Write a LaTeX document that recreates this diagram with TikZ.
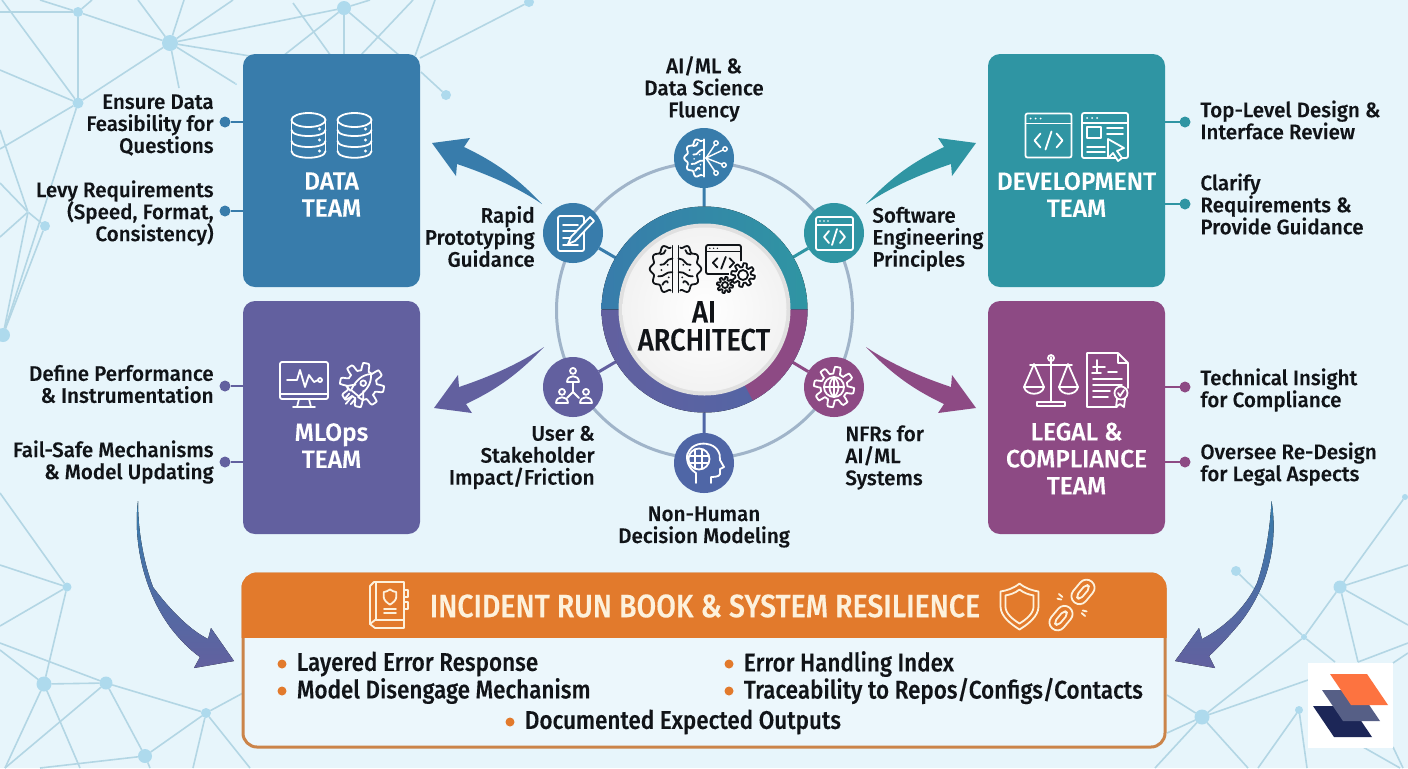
\documentclass[tikz,border=0pt]{standalone}
\usepackage{fontspec}
\setmainfont{Fira Sans Medium}[FakeStretch=0.98,FakeBold=0.25]
\newfontfamily\narrowfont[FakeStretch=0.88,FakeBold=0.25]{Fira Sans Medium}
\usepackage{xcolor}
\usetikzlibrary{positioning}
\definecolor{pagebg}{HTML}{E7F5FB}
\definecolor{netline}{HTML}{B3D6E4}
\definecolor{netdotc}{HTML}{AEDAED}
\definecolor{teamdata}{HTML}{387CAB}
\definecolor{teammlops}{HTML}{62609F}
\definecolor{teamdev}{HTML}{2F95A3}
\definecolor{teamlegal}{HTML}{8D4A84}
\definecolor{runorange}{HTML}{E27A2C}
\definecolor{runborder}{HTML}{CB8449}
\definecolor{runcream}{HTML}{FDF1DC}
\definecolor{orbitc}{HTML}{A0B4C9}
\definecolor{humanblue}{HTML}{4F66A6}
\definecolor{notetext}{HTML}{111418}
\definecolor{logodark}{HTML}{1C2657}
\definecolor{logomid}{HTML}{565F86}
\definecolor{logoorange}{HTML}{FD7340}
\newcommand{\notefont}{\fontsize{10.5}{11}\selectfont\lineskiplimit -5pt\relax}
\newcommand{\teamfont}{\fontsize{12.5}{13.5}\selectfont\lineskiplimit -5pt\relax}
\newcommand{\corefont}{\fontsize{15.5}{14}\narrowfont\lineskiplimit -5pt\relax}

\begin{document}
\begin{tikzpicture}[
  x=0.5pt, y=-0.5pt,
  netdot/.style={circle, fill=netdotc, inner sep=0pt, outer sep=0pt},
  netedge/.style={netline, line width=0.8pt},
  teambox/.style={rectangle, rounded corners=6pt, minimum width=88.5pt, minimum height=116.5pt,
                  inner sep=0pt, outer sep=0pt},
  teamlabel/.style={white, align=center, inner sep=0pt, font=\teamfont},
  leftnote/.style={anchor=east, align=right, inner sep=0pt, notetext, font=\notefont},
  rightnote/.style={anchor=west, align=left, inner sep=0pt, notetext, font=\notefont},
  midnote/.style={align=center, inner sep=0pt, notetext, font=\notefont},
  leaddot/.style={circle, minimum size=5.5pt, inner sep=0pt, outer sep=0pt},
  leader/.style={line width=1pt},
  sat/.style={circle, minimum size=30pt, inner sep=0pt, outer sep=0pt},
  spoke/.style={line width=1.5pt},
  orbit/.style={orbitc, line width=1.5pt},
  iconw/.style={color=white, line width=0.9pt, line join=round, line cap=round},
  iconk/.style={color=notetext, line width=0.9pt, line join=round, line cap=round},
  iconc/.style={color=runcream, line width=0.9pt, line join=round, line cap=round},
  bullet/.style={circle, fill=runorange, minimum size=4.5pt, inner sep=0pt},
  runtext/.style={anchor=west, inner sep=0pt, notetext, font=\fontsize{12.75}{13}\narrowfont},
  codewin/.pic={
    \draw[rounded corners=1pt] (-23,-22) rectangle (23,22);
    \draw (-23,-12) -- (23,-12);
    \foreach \dx in {-18,-13,-8} \fill (\dx,-17) circle (1);
    \draw (-8,-2) -- (-14,5) -- (-8,12) (8,-2) -- (14,5) -- (8,12) (3,-4) -- (-3,14);
  },
  gearbody/.pic={
    \draw plot[domain=0:360, samples=121] (\x:{16+3.2*max(-1,min(1,2.5*sin(8*\x)))}) -- cycle;
  },
  brainhalf/.pic={
    \draw plot[domain=-85:85, samples=70, smooth] ({1.5+(20+1.6*cos(11*\x))*cos(\x)},{(22+1.8*cos(11*\x))*sin(\x)});
    \draw (1.5,-22) -- (1.5,22);
    \draw (1.5,-10) .. controls (8,-10) and (7,-3) .. (13,-4);
    \draw (1.5,3) .. controls (8,2) and (9,8) .. (15,7);
    \draw (6,13) .. controls (6,10) and (10,12) .. (11,15);
    \draw (8,-18) .. controls (8,-15) and (11,-14) .. (13,-14);
    \foreach \dx/\dy in {6/-4,12/1,5/8} \fill (\dx,\dy) circle (1);
  },
  person/.pic={
    \draw (0,-6) circle (3.5);
    \draw (-7,7) .. controls (-7,-2) and (7,-2) .. (7,7) -- cycle;
  },
  shieldline/.pic={
    \draw (0,-23) .. controls (-6,-18) and (-13,-16) .. (-19,-15) -- (-19,0) .. controls (-19,10) and (-8,18) .. (0,23)
          .. controls (8,18) and (19,10) .. (19,0) -- (19,-15) .. controls (13,-16) and (6,-18) .. (0,-23) -- cycle;
  },
  sidearrow/.pic={
    \fill (0,0) .. controls (-30,-32) and (-55,-46) .. (-78,-57) -- (-72,-66) -- (-110,-61) -- (-86,-28) -- (-85,-40)
          .. controls (-55,-30) and (-25,-17) .. (0,0) -- cycle;
  }
]
  \clip (0,0) rectangle (1408,768);
  \fill[pagebg] (0,0) rectangle (1408,768);

  \foreach \nn/\nx/\ny/\nr in {
    a/78/12/5, b/170/43/8, c/78/103/5.5, d/28/212/1, e/45/226/5, f/3/335/7, g/344/8/7, h/529/2/5, i/446/95/5, j/236/84/1,
    fa/0/12/0, fb/40/0/0, fc/92/0/0, fd/2/0/0, fe/0/70/0, ff/0/149/0, fg/0/130/0, fh/0/183/0, fi/0/237/0,
    fj/138/0/0, fk/184/0/0, fl/233/0/0, fm/250/56/0, fn/179/88/0, fo/283/56/0, fp/344/56/0, fq/400/56/0, fr/370/0/0,
    fs/293/3/0, ft/331/56/0, fu/413/0/0, fv/360/56/0, fw/435/0/0, fx/415/56/0, fy/420/58/0, fz/421/72/0,
    p/67/587/4.5, q/44/684/7.5, r/106/683/6.5, s/206/713/5, t/145/756/7,
    pa/0/493/0, pb/0/565/0, pc/0/626/0, pd/0/643/0, pe/0/650/0, pf/5/768/0, pg/80/768/0, ph/40/768/0, pi/150/768/0,
    pj/243/693/0, pk/193/768/0, pl/250/768/0,
    u/1236/571/5, v/1340/587/6.5, w/1304/637/3, o/1202/717/7.5, k/1299/710/4, l/1405/497/3,
    ua/1408/565/0, ub/1408/625/0, uc/1358/662/0, ud/1408/643/0, ue/1335/662/0, uf/1167/695/0, ug/1167/733/0,
    uh/1308/680/0, ui/1155/768/0, uj/1248/768/0, uk/1258/768/0, ul/1307/768/0, um/1393/663/0, un/1408/653/0,
    uo/1363/747/0, up/1400/768/0, uq/1393/747/0, ur/1403/768/0}
    \node[netdot, minimum size=\nr pt] (\nn) at (\nx,\ny) {};

  \foreach \na/\nb in {
    a/fa, a/fb, a/fc, a/b, a/c, fd/c, c/fe, c/ff, c/b, c/f, fg/d, d/f, d/e, d/fh, d/fi, e/f,
    b/fj, b/fk, b/fl, b/g, b/fm, b/j, b/fn, g/fo, g/fp, g/fq, g/fr, fs/ft, fu/fv, fw/fx, h/fy, i/fz,
    p/pa, p/pb, p/pc, p/q, q/r, r/pd, q/pe, q/pf, q/pg, r/pf, r/t, r/s, t/s, t/ph, t/pi, s/pj, s/pk, s/pl,
    u/w, v/w, v/l, v/ua, v/ub, v/uc, uc/ud, w/o, w/ue, o/uf, o/ug, o/uh, o/ui, o/uj, k/uk, k/ul, um/un, uo/up, uq/ur}
    \draw[netedge] (\na) -- (\nb);

  \node[teambox, fill=teamdata] (data) at (331.5,170.5) {};
  \node[teambox, fill=teammlops, below=7pt of data] (mlops) {};
  \node[teambox, fill=teamdev] (dev) at (1076.5,170.5) {};
  \node[teambox, fill=teamlegal, below=7pt of dev] (legal) {};

  \node[teamlabel] (datalabel) at (331.5,194.5) {DATA\\TEAM};
  \node[teamlabel] (mlopslabel) at (331.5,445.5) {MLOps\\TEAM};
  \node[teamlabel] (devlabel) at (1076.5,194.5) {DEVELOPMENT\\TEAM};
  \node[teamlabel] (legallabel) at (1076.5,458.5) {LEGAL \&\\COMPLIANCE\\TEAM};

  \foreach \nm/\nx/\ny/\boxn/\col in {
    da/225/122/data.west/teamdata, db/225/211/data.west/teamdata, ma/225/386/mlops.west/teammlops, mb/225/462/mlops.west/teammlops,
    dc/1185/122/dev.east/teamdev, dd/1185/204/dev.east/teamdev, la/1185/387/legal.east/teamlegal, lb/1185/462/legal.east/teamlegal} {
    \node[leaddot, fill=\col] (\nm) at (\nx,\ny) {};
    \draw[leader, \col] (\nm) -- (\nm -| \boxn);
  }

  \node[leftnote] (ensure) at (214,125) {Ensure Data\\Feasibility for\\Questions};
  \node[leftnote] (levy) at (214,213) {Levy Requirements\\(Speed, Format,\\Consistency)};
  \node[leftnote] (define) at (214,384) {Define Performance\\\& Instrumentation};
  \node[leftnote] (failsafe) at (214,462) {Fail-Safe Mechanisms\\\& Model Updating};
  \node[rightnote] (toplevel) at (1200,120) {Top-Level Design \&\\Interface Review};
  \node[rightnote] (clarify) at (1200,204) {Clarify\\Requirements \&\\Provide Guidance};
  \node[rightnote] (insight) at (1200,390) {Technical Insight\\for Compliance};
  \node[rightnote] (oversee) at (1200,464) {Oversee Re-Design\\for Legal Aspects};

  \node[midnote] (fluency) at (704,89) {AI/ML \&\\Data Science\\Fluency};
  \node[leftnote] (rapid) at (535,236.5) {Rapid\\Prototyping\\Guidance};
  \node[rightnote] (software) at (872,239) {Software\\Engineering\\Principles};
  \node[leftnote] (impact) at (595,457.5) {User \&\\Stakeholder\\Impact/Friction};
  \node[rightnote] (nfrs) at (845,457.5) {NFRs for\\AI/ML\\Systems};
  \node[midnote] (nonhuman) at (704,527) {Non-Human\\Decision Modeling};

  \node[circle, minimum size=103pt, inner sep=0pt, outer sep=0pt] (core) at (704.5,309.5) {};
  \draw[orbit] (704.5,310.5) circle (148);
  \node[sat, fill=teamdata] (satai) at (704,158) {};
  \node[sat, fill=teamdata] (satproto) at (573,233) {};
  \node[sat, fill=teamdev] (satsoft) at (834,233) {};
  \node[sat, fill=teammlops] (satuser) at (573,387) {};
  \node[sat, fill=teamlegal] (satnfr) at (834,387) {};
  \node[sat, fill=humanblue] (sathuman) at (704,463) {};
  \draw[spoke, teamdata] (satai) -- (core);
  \draw[spoke, teamdata] (satproto) -- (core);
  \draw[spoke, teamdev] (satsoft) -- (core);
  \draw[spoke, teammlops] (satuser) -- (core);
  \draw[spoke, teamlegal] (satnfr) -- (core);
  \draw[spoke, humanblue] (sathuman) -- (core);

  \fill[left color=teamdata, right color=teamdev] (core.west) arc (180:360:103) -- cycle;
  \fill[left color=teammlops, right color=humanblue] (core.west) arc (180:0:103) -- cycle;
  \fill[teamlegal] (core.center) -- (core.east) arc (0:62:103) -- cycle;
  \node[circle, fill=black!12, minimum size=86pt, inner sep=0pt] (corerim) at (core.center) {};
  \node[circle, inner color=white, outer color=black!5, minimum size=82pt, inner sep=0pt] (coredisc) at (core.center) {};
  \node[inner sep=0pt, align=center, notetext, font=\corefont] (corelabel) at (704,326) {AI\\ARCHITECT};

  \pic[iconk, scale=1.05] at (677,269) {brainhalf};
  \pic[iconk, xscale=-1.05, yscale=1.05] at (674,269) {brainhalf};
  \pic[iconk, xscale=0.76, yscale=0.66] at (723.5,259.5) {codewin};
  \fill[white] (743,275) circle (14) (725,285) circle (9);
  \pic[iconk, scale=0.62] at (743,275) {gearbody};
  \draw[iconk] (743,275) circle (5);
  \pic[iconk, scale=0.42] at (725,285) {gearbody};
  \draw[iconk] (725,285) circle (3);

  \pic[iconw, xscale=-0.9, yscale=0.85] at (705,158) {brainhalf};
  \foreach \ex/\ey in {716/143, 725/149, 724/165, 716/173} {
    \draw[iconw, line width=0.7pt] (706,158) -- (\ex,\ey);
    \draw[iconw, fill=teamdata, line width=0.7pt] (\ex,\ey) circle (2.2);
  }

  \begin{scope}[iconw]
    \draw[rounded corners=1pt] (558,216) rectangle (584,251);
    \foreach \ly in {225,231,238,245} \draw (563,\ly) -- (578,\ly);
    \draw[fill=teamdata] (590,217) -- (594,221) -- (575,241) -- (568,244) -- (571,237) -- cycle;
    \draw[rounded corners=1pt] (816,217) rectangle (853,250);
    \draw (816,225) -- (853,225);
    \foreach \dx in {820,824,828} \fill (\dx,221) circle (0.9);
    \draw (829,231) -- (824,237) -- (829,243) (840,231) -- (845,237) -- (840,243) (837,229) -- (832,245);
    \draw (573,383) -- (573,392) (567,398) -- (573,392) -- (579,398);
    \pic[scale=0.85] at (573,376) {person};
    \pic[scale=0.85] at (562,397) {person};
    \pic[scale=0.85] at (586,397) {person};
    \pic[scale=1.05] at (834,387) {gearbody};
    \draw (834,387) circle (10) (824,387) -- (844,387) (834,377) -- (834,397);
    \draw (834,377) .. controls (828,382) and (828,392) .. (834,397) (834,377) .. controls (840,382) and (840,392) .. (834,397);
    \begin{scope}[shift={(704,463)}]
      \draw (-8,20) -- (-8,10) .. controls (-18,4) and (-18,-8) .. (-16,-10) .. controls (-12,-20) and (0,-20) .. (3,-19)
            .. controls (12,-18) and (17,-10) .. (16,-3) -- (20,4) -- (16,6) -- (16,11) .. controls (16,14) and (8,14) .. (7,14) -- (7,20);
      \draw (-5,-4) circle (10.5) (-15,-7) -- (5,-7) (-14,0) -- (4,0) (-9,-14) -- (-9,6) (-2,-14) -- (-2,6);
    \end{scope}

    \foreach \cx in {308.5,354.5} {
      \draw (\cx,120) ellipse (17 and 7);
      \draw (\cx-17,120) -- (\cx-17,151) (\cx+17,120) -- (\cx+17,151);
      \draw (\cx-17,151) .. controls (\cx-17,160) and (\cx+17,160) .. (\cx+17,151);
      \draw (\cx-17,130) .. controls (\cx-17,138) and (\cx+17,138) .. (\cx+17,130);
      \draw (\cx-17,141) .. controls (\cx-17,149) and (\cx+17,149) .. (\cx+17,141);
      \foreach \ly in {129,140,151} \fill (\cx+11,\ly) circle (1.6);
    }

    \pic at (1048.5,135.5) {codewin};
    \draw[rounded corners=1pt] (1082,113) rectangle (1128,158);
    \draw (1082,123) -- (1128,123);
    \foreach \dx in {1087,1092,1097} \fill (\dx,118) circle (1);
    \draw (1087,127) rectangle (1101,138);
    \draw (1107,128) -- (1123,128) (1107,134) -- (1123,134) (1087,147) -- (1105,147) (1087,152) -- (1105,152);
    \draw[fill=teamdev] (1108,139) -- (1124,148) -- (1117,151) -- (1122,158) -- (1118,161) -- (1113,153) -- (1108,158) -- cycle;

    \draw[rounded corners=1pt] (280,362) rectangle (328,399);
    \draw (280,394) -- (328,394) (299,399) -- (297,407) (309,399) -- (311,407) (293,407) -- (315,407);
    \draw (287,380) -- (297,380) -- (300,370) -- (305,387) -- (309,375) -- (314,382) -- (318,380);
    \draw (320,380) circle (2);
    \pic[scale=1.15] at (362,385) {gearbody};
    \begin{scope}[shift={(360,387)}, rotate=-40]
      \draw[fill=teammlops] (0,-17) .. controls (7,-10) and (7,-2) .. (5,8) -- (-5,8) .. controls (-7,-2) and (-7,-10) .. (0,-17) -- cycle;
      \draw (0,-5) circle (2.8);
      \draw (-5,1) -- (-11,8) -- (-5,9) (5,1) -- (11,8) -- (5,9);
      \draw (-4,12) -- (-4,19) (0,12) -- (0,22) (4,12) -- (4,19);
    \end{scope}

    \draw (1051,357) -- (1051,402) (1030,365) -- (1072,365) (1037,406) -- (1065,406) -- (1065,402) -- (1037,402) -- cycle;
    \draw (1051,358) circle (3);
    \draw (1024,387) -- (1034,364) -- (1044,387) (1059,387) -- (1068,364) -- (1078,387);
    \draw (1024,387) -- (1044,387) .. controls (1042,396) and (1026,396) .. (1024,387);
    \draw (1059,387) -- (1078,387) .. controls (1076,396) and (1061,396) .. (1059,387);
    \draw (1118,353) -- (1087,353) -- (1087,407) -- (1117,407) (1128,388) -- (1128,363) -- (1118,353) -- (1118,363) -- (1128,363);
    \draw (1093,367) -- (1105,367) (1092,373) -- (1101,373) (1097,360) -- (1097,372) (1108,372) -- (1117,372);
    \draw (1093,379) -- (1122,379) (1093,385) -- (1122,385) (1093,391) -- (1110,391) (1093,397) -- (1108,397);
    \draw (1121,393) circle (6.5) (1117,399) -- (1116,407) -- (1120,404) -- (1124,407) -- (1125,399);
    \draw (1118,393) -- (1120,396) -- (1124,390);
  \end{scope}

  \pic[color=teamdata] at (542,204) {sidearrow};
  \pic[color=teamdev, xscale=-1] at (866,204) {sidearrow};
  \pic[color=teammlops, yscale=-1] at (544,347) {sidearrow};
  \pic[color=teamlegal, xscale=-1, yscale=-1] at (866,347) {sidearrow};

  \fill[top color=teamdata, bottom color=teammlops] (138,501) .. controls (133,540) and (143,590) .. (170,627)
    .. controls (180,640) and (190,650) .. (200,657) -- (194,668) -- (234,661) -- (211,628) -- (208,639)
    .. controls (190,630) and (170,610) .. (153,587) .. controls (143,560) and (138,530) .. (138,501) -- cycle;
  \fill[top color=teamdata, bottom color=teammlops] (1271.5,501) .. controls (1278,540) and (1270,585) .. (1240,623)
    .. controls (1230,635) and (1218,648) .. (1209,656) -- (1215,668) -- (1175,661) -- (1199,628) -- (1202,639)
    .. controls (1220,630) and (1245,610) .. (1257,583) .. controls (1265,560) and (1270,530) .. (1271.5,501) -- cycle;

  \node[rectangle, rounded corners=7pt, draw=runborder, fill=pagebg!80!white, line width=1.5pt,
        minimum width=461pt, minimum height=86.5pt, inner sep=0pt] (run) at (704,660.5) {};
  \begin{scope}
    \clip (238,568) rectangle (1170,637);
    \filldraw[runorange, line width=1.5pt, rounded corners=7pt] (243,574) rectangle (1165,747);
  \end{scope}
  \node[inner sep=0pt, runcream, font=\fontsize{16.2}{17}\narrowfont] (runtitle) at (705,606) {INCIDENT RUN BOOK \& SYSTEM RESILIENCE};

  \begin{scope}[iconc]
    \draw (370,586) -- (374,582) -- (404,582) -- (404,628) -- (375,628) -- (370,624) -- cycle;
    \draw (370,624) -- (375,620) -- (404,620) (376,582) -- (376,620);
    \draw (404,590) -- (408,590) -- (408,597) -- (404,597) (404,602) -- (408,602) -- (408,609) -- (404,609);
    \pic[scale=0.33] at (390,597) {shieldline};
    \draw (384,609) -- (396,609) (384,613) -- (396,613);
    \pic at (1019.5,606.5) {shieldline};
    \pic[scale=0.74] at (1019.5,606.5) {shieldline};
    \begin{scope}[shift={(1072,605)}, rotate=50, scale=0.9]
      \draw[rounded corners=4pt] (4,-9) rectangle (34,9);
      \draw[rounded corners=2pt] (10,-3) rectangle (28,3);
      \draw[rounded corners=4pt] (-34,-9) rectangle (-4,9);
      \draw[rounded corners=2pt] (-28,-3) rectangle (-10,3);
      \draw (0,-14) -- (0,-19) (0,14) -- (0,19) (-3,-13) -- (-5,-17) (3,13) -- (5,17);
    \end{scope}
  \end{scope}

  \foreach \nm/\bx/\by/\words in {
    ra/282/664/{Layered Error Response}, rb/282/691/{Model Disengage Mechanism},
    rc/729/664/{Error Handling Index}, rd/729/691/{Traceability to Repos/Configs/Contacts},
    re/510/722/{Documented Expected Outputs}} {
    \node[bullet] (\nm) at (\bx,\by) {};
    \node[runtext, right=4.8pt of \nm] (\nm text) {\words};
  }

  \node[rectangle, fill=white, minimum size=42.5pt, inner sep=0pt] (logo) at (1350.5,705.5) {};
  \fill[logodark] (1313,706) -- (1351,706) -- (1372,737) -- (1334,737) -- cycle;
  \fill[logomid] (1322,690) -- (1359,690) -- (1380,721) -- (1343,721) -- cycle;
  \fill[logoorange] (1330,674) -- (1367,674) -- (1388,705) -- (1351,705) -- cycle;
\end{tikzpicture}
\end{document}
